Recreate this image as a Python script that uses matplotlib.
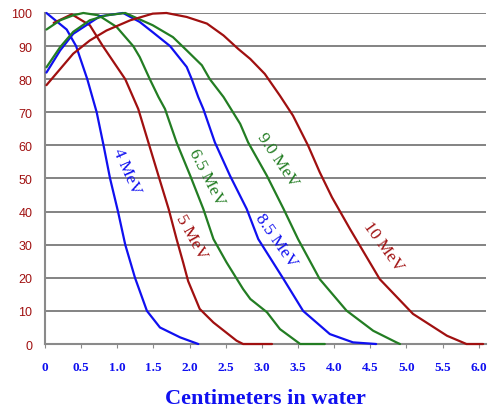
import matplotlib
matplotlib.use("Agg")
import matplotlib.pyplot as plt

# Depth (cm) and percentage depth dose for each electron energy
x_4 = [0.02, 0.30, 0.43, 0.585, 0.715, 0.81, 0.90, 1.01, 1.11, 1.245, 1.41, 1.59, 1.87, 2.12]
y_4 = [100, 95, 90, 80, 70, 60, 50, 40, 30, 20, 10, 5, 2, 0]

x_5 = [0.12, 0.37, 0.62, 0.80, 1.11, 1.29, 1.43, 1.57, 1.71, 1.82, 1.91, 1.98, 2.14, 2.33, 2.65, 2.74, 3.14]
y_5 = [97, 99.6, 96.3, 90, 80, 71, 60.9, 50.8, 40.8, 31.7, 24.7, 19, 10.6, 6.5, 1, 0, 0]

x_65 = [0.02, 0.21, 0.39, 0.53, 0.74, 0.99, 1.22, 1.31, 1.45, 1.57, 1.66, 1.82, 2.01, 2.19, 2.33, 2.51, 2.74, 2.84, 3.07, 3.25, 3.53, 3.87]
y_65 = [95, 97.8, 99.3, 100, 99.3, 95.8, 90, 86.7, 80, 74.6, 71, 60.9, 50.8, 40.8, 31.7, 24.7, 16.6, 13.6, 9.6, 4.5, 0, 0]

x_85 = [0.02, 0.21, 0.39, 0.76, 1.08, 1.31, 1.49, 1.73, 1.96, 2.03, 2.12, 2.19, 2.35, 2.56, 2.79, 2.95, 3.30, 3.57, 3.94, 4.26, 4.58]
y_85 = [82, 88.7, 93.7, 99, 100, 97.3, 94.2, 90, 83.7, 80, 74.6, 71, 60.9, 50.8, 40.8, 31.7, 19.6, 10, 3, 0.5, 0]

x_90 = [0.02, 0.21, 0.39, 0.62, 0.85, 1.11, 1.49, 1.77, 1.96, 2.17, 2.28, 2.47, 2.70, 2.81, 3.07, 3.30, 3.50, 3.80, 4.17, 4.54, 4.86, 4.91]
y_90 = [83.6, 89.7, 94.3, 97.8, 99.3, 100, 96.3, 92.7, 88.7, 84.2, 80, 74.6, 66.5, 60.9, 50.8, 40.8, 31.7, 19.6, 10.1, 4, 0.5, 0]

x_10 = [0.02, 0.39, 0.62, 0.85, 1.18, 1.49, 1.68, 1.96, 2.24, 2.47, 2.67, 2.84, 3.04, 3.25, 3.43, 3.64, 3.80, 3.97, 4.22, 4.63, 5.09, 5.56, 5.83, 6.06]
y_10 = [78.2, 87.7, 91.7, 94.7, 97.8, 99.8, 100, 98.8, 96.8, 93.2, 89.2, 86.1, 81.6, 75, 69, 59.9, 51.9, 44.3, 34.7, 19.6, 9.1, 2.5, 0, 0]

labels = ["4 MeV", "5 MeV", "6.5 MeV", "8.5 MeV", "9.0 MeV", "10 MeV"]
label_x = [1.13, 2.03, 2.24, 3.20, 3.22, 4.68]
label_y = [52.3, 32.6, 50.5, 31.4, 55.9, 29.6]
label_rot = [-66, -61, -63, -55, -56, -54]

xticks = [0, 0.5, 1.0, 1.5, 2.0, 2.5, 3.0, 3.5, 4.0, 4.5, 5.0, 5.5, 6.0]
xtick_labels = ["0", "0.5", "1.0", "1.5", "2.0", "2.5", "3.0", "3.5", "4.0", "4.5", "5.0", "5.5", "6.0"]
yticks = [0, 10, 20, 30, 40, 50, 60, 70, 80, 90, 100]

BLUE = "#1010f0"
RED = "#a01010"
GREEN = "#237d23"
colors = [BLUE, RED, GREEN, BLUE, GREEN, RED]
series = [(x_4, y_4), (x_5, y_5), (x_65, y_65), (x_85, y_85), (x_90, y_90), (x_10, y_10)]

fig = plt.figure(figsize=(5, 4.1), dpi=100)
ax = fig.add_axes([0.09, 0.1585, 0.882, 0.8074])

for (xs, ys), c in zip(series, colors):
    ax.plot(xs, ys, color=c, lw=1.6, clip_on=False, zorder=3,
            solid_joinstyle="round", solid_capstyle="round")

for t, lx, ly, r, c in zip(labels, label_x, label_y, label_rot, colors):
    ax.text(lx, ly, t, rotation=r, rotation_mode="anchor", ha="center", va="center",
            color=c, fontsize=12.5, family="Liberation Serif", zorder=4)

ax.set_xlim(0, 6.1)
ax.set_ylim(0, 100)
ax.set_yticks(yticks)
ax.set_xticks(xticks)
ax.set_xticklabels(xtick_labels)
ax.yaxis.grid(True, color="#7a7a7a", lw=1.3)
ax.set_axisbelow(True)

for s in ["top", "right"]:
    ax.spines[s].set_visible(False)
for s in ["left", "bottom"]:
    ax.spines[s].set_color("#8a8a8a")
    ax.spines[s].set_linewidth(1.5)

ax.tick_params(axis="y", length=0, pad=9, labelcolor=RED, labelsize=9)
ax.tick_params(axis="x", length=3, color="#8a8a8a", pad=9, labelcolor=BLUE, labelsize=9.5)
for lab in ax.get_xticklabels():
    lab.set_family("Liberation Serif")
    lab.set_fontweight("bold")
for lab in ax.get_yticklabels():
    lab.set_family("Liberation Sans")

ax.set_xlabel("Centimeters in water", color=BLUE, fontsize=16, fontweight="bold",
              family="Liberation Serif", labelpad=11)

fig.savefig("out.png", dpi=100)
